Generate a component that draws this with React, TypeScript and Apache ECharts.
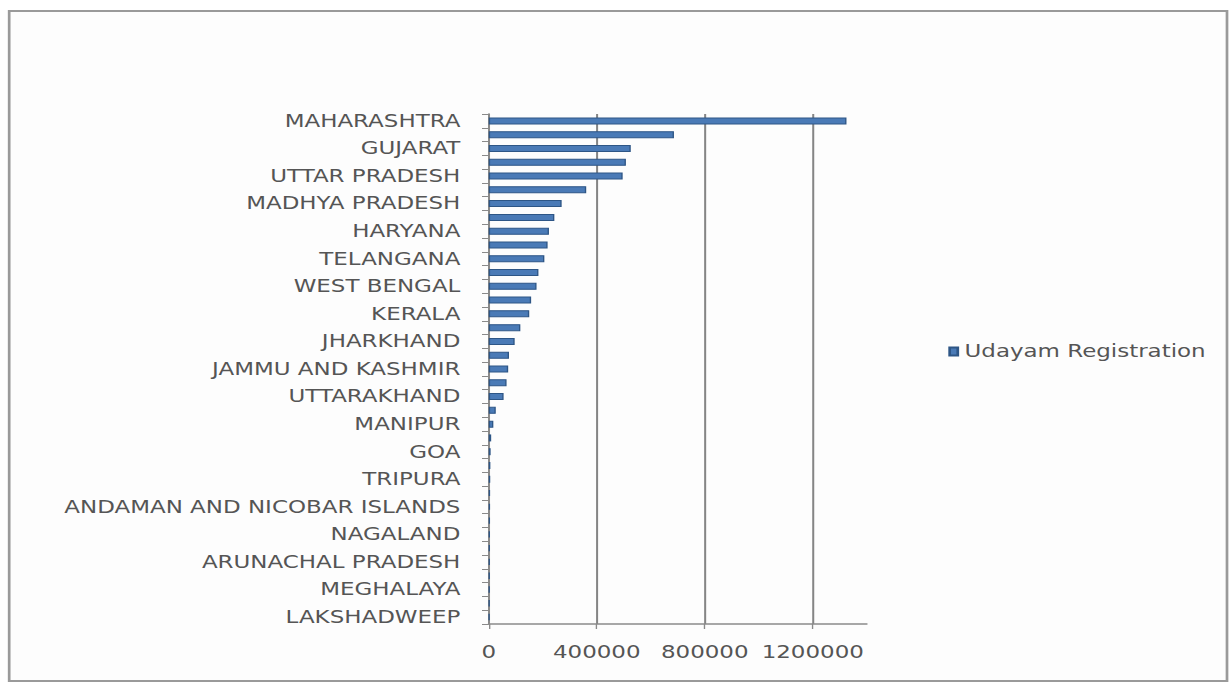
import React, { useEffect, useRef } from "react";
import * as echarts from "echarts";

// States / UTs in descending order of registrations
const states = [
  "MAHARASHTRA",
  "TAMIL NADU",
  "GUJARAT",
  "KARNATAKA",
  "UTTAR PRADESH",
  "RAJASTHAN",
  "MADHYA PRADESH",
  "BIHAR",
  "HARYANA",
  "ANDHRA PRADESH",
  "TELANGANA",
  "DELHI",
  "WEST BENGAL",
  "PUNJAB",
  "KERALA",
  "ODISHA",
  "JHARKHAND",
  "CHHATTISGARH",
  "JAMMU AND KASHMIR",
  "ASSAM",
  "UTTARAKHAND",
  "HIMACHAL PRADESH",
  "MANIPUR",
  "CHANDIGARH",
  "GOA",
  "PUDUCHERRY",
  "TRIPURA",
  "DADRA AND NAGAR HAVELI",
  "ANDAMAN AND NICOBAR ISLANDS",
  "MIZORAM",
  "NAGALAND",
  "SIKKIM",
  "ARUNACHAL PRADESH",
  "DAMAN AND DIU",
  "MEGHALAYA",
  "LADAKH",
  "LAKSHADWEEP",
];

const registrations = [
  1325000, 686000, 526000, 508000, 496000, 361000, 270000, 243000, 223000,
  218000, 206000, 184000, 177000, 157000, 150000, 117000, 96000, 75000, 72000,
  66000, 55000, 26000, 17000, 9000, 7000, 6000, 5500, 5000, 4800, 4500, 4200,
  4000, 3800, 3500, 3300, 3000, 2500,
];

const seriesName = "Udayam Registration";

// Value axis range and step
const axisMax = 1400000;
const axisStep = 400000;

// The drawing is laid out on a narrower canvas and widened horizontally
const CANVAS_W = 912;
const CANVAS_H = 684;
const STRETCH = 1232 / CANVAS_W;

export default function App() {
  const ref = useRef<HTMLDivElement>(null);

  useEffect(() => {
    if (!ref.current) return;
    const chart = echarts.init(ref.current, null, { renderer: "svg" });
    const font = "DejaVu Sans";
    chart.setOption({
      animation: false,
      backgroundColor: "#ffffff",
      graphic: [
        {
          type: "rect",
          z: -1,
          shape: { x: 6.8, y: 11, width: 901.5, height: 670 },
          style: { fill: "#fdfdfd", stroke: "#9a9a9a", lineWidth: 2 },
        },
      ],
      legend: {
        left: 702,
        top: 343,
        padding: 0,
        icon: "rect",
        itemWidth: 6,
        itemHeight: 8,
        textStyle: { fontFamily: font, fontSize: 17, color: "#555555" },
        data: [seriesName],
      },
      grid: {
        left: 361.8,
        width: 279.8,
        top: 114,
        bottom: 60,
        containLabel: false,
      },
      xAxis: {
        type: "value",
        min: 0,
        max: axisMax,
        interval: axisStep,
        axisLine: { show: true, lineStyle: { color: "#8a8a8a", width: 1.5 } },
        axisTick: { show: true, length: 5, lineStyle: { color: "#8a8a8a" } },
        axisLabel: {
          showMaxLabel: false,
          margin: 20,
          fontFamily: font,
          fontSize: 17,
          color: "#555555",
          formatter: (v: number) => String(v),
        },
        splitLine: {
          show: true,
          showMinLine: false,
          showMaxLine: false,
          lineStyle: { color: "#858585", width: 1.5 },
        },
      },
      yAxis: {
        type: "category",
        inverse: true,
        data: states,
        axisLine: { show: true, lineStyle: { color: "#8a8a8a", width: 1.5 } },
        axisTick: {
          show: true,
          interval: 0,
          length: 5,
          lineStyle: { color: "#8a8a8a" },
        },
        axisLabel: {
          interval: 1,
          margin: 21,
          fontFamily: font,
          fontSize: 17,
          color: "#555555",
        },
      },
      series: [
        {
          name: seriesName,
          type: "bar",
          data: registrations,
          barWidth: 7,
          itemStyle: {
            color: "#4a7ab6",
            borderColor: "#2e5686",
            borderWidth: 1,
          },
        },
      ],
    });
    return () => chart.dispose();
  }, []);

  return (
    <div
      ref={ref}
      style={{
        position: "absolute",
        left: 0,
        top: 0,
        width: CANVAS_W,
        height: CANVAS_H,
        transform: `scaleX(${STRETCH})`,
        transformOrigin: "0 0",
      }}
    />
  );
}
